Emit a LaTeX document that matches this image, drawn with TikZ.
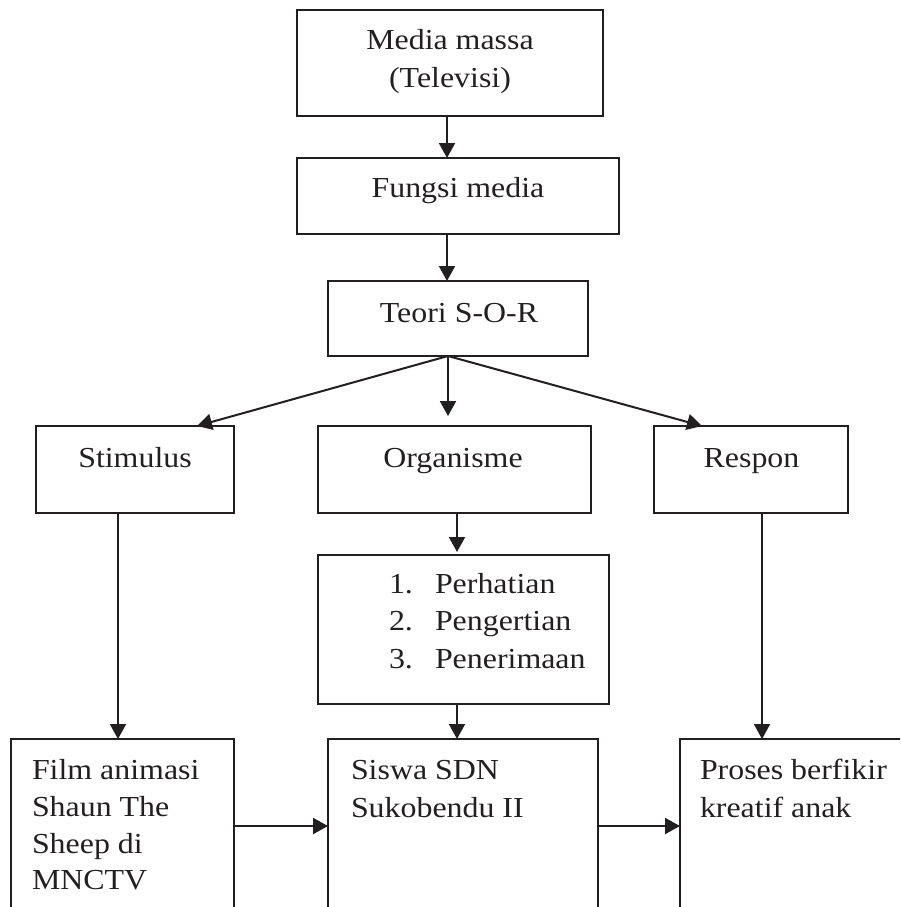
\documentclass[tikz,border=0pt]{standalone}
\usepackage{fontspec}
\setmainfont{Liberation Serif}[FakeStretch=1.1]
\usetikzlibrary{arrows.meta}
\definecolor{ink}{RGB}{35,31,32}
\tikzset{
  box/.style={draw=ink, line width=2pt, inner sep=0pt, outer sep=0pt, rectangle},
  txt/.style={inner sep=0pt, outer sep=0pt, text=ink, font=\fontsize{29}{37}\selectfont},
  arr/.style={draw=ink, line width=2pt, -{Triangle[length=15pt,width=16pt]}}
}
\begin{document}
\begin{tikzpicture}[x=1pt,y=-1pt]
\useasboundingbox (0,0) rectangle (900,907);
\clip (0,0) rectangle (900,907);
% boxes
\node[box, minimum width=306pt, minimum height=106pt] (media) at (450,63) {};
\node[box, minimum width=322pt, minimum height=76pt] (fungsi) at (458,196) {};
\node[box, minimum width=260pt, minimum height=75pt] (teori) at (458,318.5) {};
\node[box, minimum width=198pt, minimum height=87pt] (stim) at (135,469.5) {};
\node[box, minimum width=273pt, minimum height=87pt] (org) at (454.5,469.5) {};
\node[box, minimum width=194pt, minimum height=87pt] (resp) at (751,469.5) {};
\node[box, minimum width=291pt, minimum height=149pt] (list) at (463.5,629.5) {};
\node[box, minimum width=223pt, minimum height=221pt] (film) at (122.5,849.5) {};
\node[box, minimum width=270pt, minimum height=221pt] (siswa) at (463,849.5) {};
\node[box, minimum width=280pt, minimum height=221pt] (proses) at (820,849.5) {};
% texts
\node[txt, anchor=base] (tmedia1) at (450,50) {Media massa};
\node[txt, anchor=base] (tmedia2) at (450,87) {(Televisi)};
\node[txt, anchor=base] (tfungsi) at (458,197) {Fungsi media};
\node[txt, anchor=base] (tteori) at (459,322) {Teori S-O-R};
\node[txt, anchor=base] (tstim) at (135,467) {Stimulus};
\node[txt, anchor=base] (torg) at (453,467) {Organisme};
\node[txt, anchor=base] (tresp) at (751.5,467) {Respon};
\node[txt, anchor=base west] (n1) at (389,593) {1.};
\node[txt, anchor=base west] (l1) at (435,593) {Perhatian};
\node[txt, anchor=base west] (n2) at (389,630) {2.};
\node[txt, anchor=base west] (l2) at (435,630) {Pengertian};
\node[txt, anchor=base west] (n3) at (389,668) {3.};
\node[txt, anchor=base west] (l3) at (435,668) {Penerimaan};
\node[txt, anchor=base west] (tf1) at (32,779) {Film animasi};
\node[txt, anchor=base west] (tf2) at (32,816) {Shaun The};
\node[txt, anchor=base west] (tf3) at (32,853) {Sheep di};
\node[txt, anchor=base west] (tf4) at (32,889) {MNCTV};
\node[txt, anchor=base west] (ts1) at (351,779) {Siswa SDN};
\node[txt, anchor=base west] (ts2) at (351,817) {Sukobendu II};
\node[txt, anchor=base west] (tp1) at (700,779) {Proses berfikir};
\node[txt, anchor=base west] (tp2) at (700,817) {kreatif anak};
% connector helper coordinates
\coordinate (spine) at (447,0);
\coordinate (split) at (448,356);
\coordinate (sx) at (118,0);
\coordinate (ox) at (457,0);
\coordinate (rx) at (762,0);
\coordinate (hy) at (0,826);
% connectors
\draw[arr] (media.south -| spine) -- (fungsi.north -| spine);
\draw[arr] (fungsi.south -| spine) -- (teori.north -| spine);
\draw[arr] (split) -- ([xshift=62pt]stim.north);
\draw[arr, shorten >=10pt] (split) -- (org.north -| split);
\draw[arr] (split) -- ([xshift=-49pt]resp.north);
\draw[arr] (stim.south -| sx) -- (film.north -| sx);
\draw[arr, shorten >=3pt] (org.south -| ox) -- (list.north -| ox);
\draw[arr] (list.south -| ox) -- (siswa.north -| ox);
\draw[arr] (resp.south -| rx) -- (proses.north -| rx);
\draw[arr] (film.east |- hy) -- (siswa.west |- hy);
\draw[arr] (siswa.east |- hy) -- (proses.west |- hy);
\end{tikzpicture}
\end{document}
